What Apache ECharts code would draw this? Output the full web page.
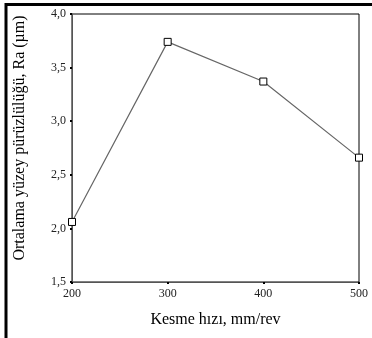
<!DOCTYPE html>
<html>
<head>
<meta charset="utf-8">
<script src="https://cdn.jsdelivr.net/npm/echarts@6/dist/echarts.min.js"></script>
<style>
html, body { margin: 0; padding: 0; background: #fff; }
#chart { width: 372px; height: 338px; }
</style>
</head>
<body>
<div id="chart"></div>
<script>
// kesme hizi (mm/rev) ve ortalama yuzey puruzlulugu Ra (um)
var speeds = [200, 300, 400, 500];
var roughness = [2.06, 3.74, 3.37, 2.66];

var chart = echarts.init(document.getElementById('chart'));

var fmt = function (v) {
	return v.toFixed(1).replace('.', ',');
};

var option = {
	backgroundColor: '#fff',
	animation: false,
	textStyle: { fontFamily: 'Liberation Serif' },
	grid: {
		left: 72, right: 13, top: 14, bottom: 56,
		show: true, borderColor: '#000', borderWidth: 1
	},
	graphic: [{
		type: 'polyline',
		shape: { points: [[6, 338], [6, 4.5], [372, 4.5]] },
		style: { stroke: '#000', lineWidth: 3, fill: null }
	}],
	xAxis: {
		type: 'value',
		min: 200, max: 500, interval: 100,
		name: 'Kesme hızı, mm/rev',
		nameLocation: 'middle',
		nameGap: 30,
		nameTextStyle: { fontSize: 16, color: '#000', fontFamily: 'Liberation Serif' },
		axisLine: { lineStyle: { color: '#555', width: 1 } },
		axisTick: { show: true, length: 2, lineStyle: { color: '#000', width: 2 } },
		axisLabel: { fontSize: 12, color: '#222', margin: 6, fontFamily: 'Liberation Serif' },
		splitLine: { show: false }
	},
	yAxis: {
		type: 'value',
		min: 1.5, max: 4, interval: 0.5,
		name: 'Ortalama yüzey pürüzlülüğü, Ra (µm)',
		nameLocation: 'middle',
		nameGap: 44,
		nameTextStyle: { fontSize: 16, color: '#000', fontFamily: 'Liberation Serif', padding: [0, 0, 0, 20] },
		axisLine: { show: true, lineStyle: { color: '#555', width: 1 } },
		axisTick: { show: true, length: 2, lineStyle: { color: '#000', width: 2 } },
		axisLabel: { fontSize: 12, color: '#222', margin: 6, formatter: fmt, fontFamily: 'Liberation Serif' },
		splitLine: { show: false }
	},
	series: [{
		type: 'line',
		data: speeds.map(function (s, i) { return [s, roughness[i]]; }),
		symbol: 'rect',
		symbolSize: 7,
		showAllSymbol: true,
		lineStyle: { color: '#666', width: 1.2 },
		itemStyle: { color: '#fff', borderColor: '#000', borderWidth: 1 }
	}]
};

chart.setOption(option);
</script>
</body>
</html>
